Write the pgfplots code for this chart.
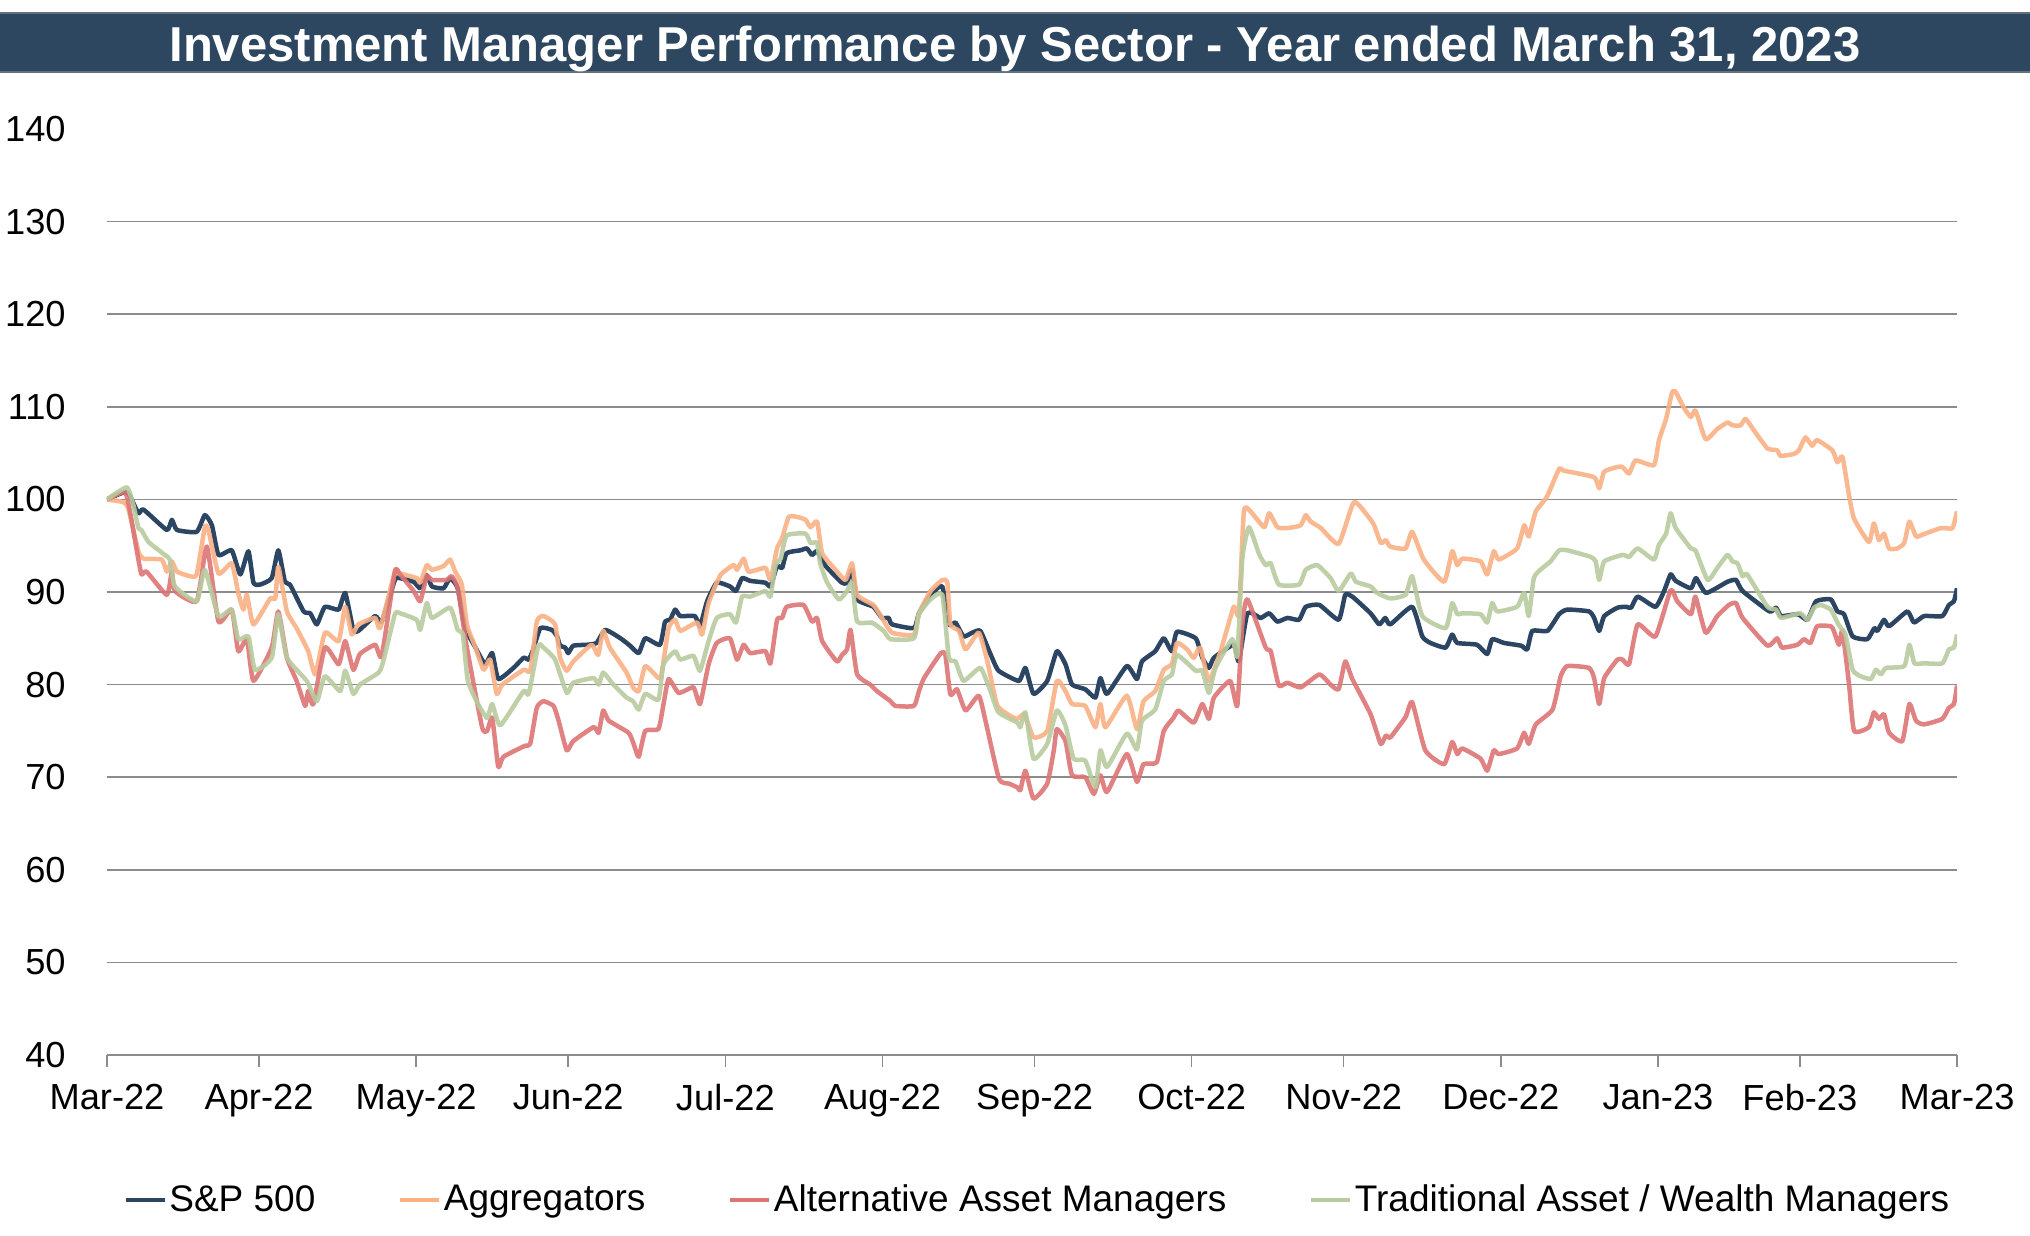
\documentclass[border=0pt]{standalone}
\usepackage{fontspec}
\setmainfont{Liberation Sans}
\usepackage{pgfplots}
\pgfplotsset{compat=1.18}

\definecolor{navy}{RGB}{43,69,99}
\definecolor{titlebar}{RGB}{45,71,97}
\definecolor{aggr}{RGB}{250,176,132}
\definecolor{altm}{RGB}{222,116,116}
\definecolor{trad}{RGB}{184,203,158}
\definecolor{gridc}{RGB}{140,140,140}

\begin{document}
\begin{tikzpicture}[font=\fontsize{14.5}{17}\selectfont]
\useasboundingbox (0,0) rectangle (812pt,494.4pt);
\fill[titlebar] (0,465.6pt) rectangle (812pt,489.2pt);
\draw[gridc!60!titlebar, line width=0.5pt] (0,465.6pt) -- (812pt,465.6pt) (0,489.2pt) -- (812pt,489.2pt);
\node[anchor=base, text=white, font=\fontsize{19.6}{23}\selectfont\bfseries] at (406pt,469.8pt)
  {Investment Manager Performance by Sector - Year ended March 31, 2023};

\begin{axis}[
  at={(42.8pt,72.4pt)}, anchor=south west,
  scale only axis, width=740pt, height=370.4pt,
  xmin=0, xmax=365, ymin=40, ymax=140,
  axis lines*=left,
  y axis line style={draw=none},
  x axis line style={gridc, line width=0.8pt},
  xtick={0,30,61,91,122,153,183,214,244,275,306,334,365},
  xticklabels={Mar-22,Apr-22,May-22,Jun-22,Jul-22,Aug-22,Sep-22,Oct-22,Nov-22,Dec-22,Jan-23,Feb-23,Mar-23},
  ytick={40,50,...,140},
  tick align=outside,
  major tick length=5pt,
  xtick style={gridc, line width=0.6pt},
  ytick style={draw=none},
  extra y ticks={50,60,...,130},
  extra y tick labels={},
  extra y tick style={grid=major},
  major grid style={gridc, line width=0.7pt},
  yticklabel style={anchor=east, xshift=-8pt},
  xticklabel style={yshift=-3.3pt},
  /pgf/number format/assume math mode=true,
  every axis plot/.append style={line width=1.8pt, line join=round, no markers, smooth, tension=0.3},
  legend columns=4,
  legend style={at={(0.503,-0.1566)}, anchor=center, draw=none, fill=none,
    font=\fontsize{14.8}{17}\selectfont,
    nodes={inner sep=1pt},
    /tikz/every even column/.append style={column sep=32pt}},
  legend image code/.code={\draw[#1, line width=1.8pt, opacity=1, sharp plot] (0pt,0pt) -- (15.6pt,0pt);},
]

% S&P 500
\addplot[navy] coordinates {
(0,100) (3.5,100.8) (4.5,100.4) (6.2,98.5) (7.2,98.9) (11.8,96.7) (12.8,97.8) (13.8,96.7)
(17.7,96.5) (19.3,98.3) (20.7,97.2) (22,94.0) (24.6,94.5) (26.3,91.9) (27.9,94.4) (28.9,91.0)
(30.2,90.8) (32.5,91.5) (33.8,94.5) (35.1,91.1) (36.1,90.8) (38.8,87.9) (40.1,87.7) (41.4,86.5)
(43,88.4) (45.7,88.1) (47,89.9) (48.6,85.9) (49.6,85.8) (52.9,87.4) (54.2,86.8) (56.8,91.3)
(57.8,91.5) (60.5,91.1) (61.8,90.4) (63.1,91.8) (64.1,90.6) (66.4,90.4) (67.7,91.5) (69.2,90.4)
(70.7,86.1) (72.7,84.0) (74.6,82.2) (76,83.4) (77.2,80.6) (80.2,81.8) (82.2,82.9) (83.2,82.7)
(84.1,83.8) (85.5,86.1) (87.8,85.9) (88.8,85.2) (89.4,84.2) (90.4,84.0) (91.0,83.4) (92.0,84.2)
(94.7,84.3) (96.6,84.5) (98.3,85.9) (101.3,85.0) (103.2,84.2) (104.9,83.4) (106.2,85.0) (109.1,84.3)
(110.1,86.8) (111.1,87.0) (112.1,88.1) (113.1,87.4) (116.0,87.4) (117.0,86.3) (118.4,89.0) (120.3,91.0)
(122.9,90.6) (124.1,90.1) (125.3,91.5) (126.9,91.2) (129.9,91.0) (130.9,90.6) (132.2,92.8) (133.2,92.6)
(134.1,94.2) (136.8,94.5) (138.1,94.7) (139.1,94.0) (140.1,94.4) (141.8,92.8) (145.0,91.0) (146.0,91.0)
(147.0,92.4) (148.0,89.2) (151.2,88.4) (152.9,87.2) (154.2,87.2) (154.9,86.5) (159.2,86.1) (160.2,87.7)
(162.5,89.7) (164.8,90.6) (166.1,86.5) (167.4,86.7) (169.0,85.2) (170.7,85.6) (172.3,85.8) (174.3,83.3)
(175.9,81.5) (179.9,80.4) (181.2,81.8) (182.8,79.0) (185.5,80.4) (187.4,83.6) (189.1,82.2) (190.4,80.0)
(193.0,79.5) (195,78.6) (196.0,80.7) (197.3,79.0) (201.2,82.0) (203.2,80.6) (204.2,82.5) (206.8,83.6)
(208.5,85.0) (210.1,83.6) (211.1,85.7) (214.8,85.0) (216.1,82.9) (217.4,81.8) (218.4,82.9) (222.3,84.3)
(223.3,82.5) (225.0,87.7) (227.6,87.2) (229.3,87.7) (230.9,86.8) (232.9,87.2) (235.2,87.0) (236.5,88.4)
(239.2,88.6) (243,87.0) (244.3,89.7) (245.7,89.5) (249.3,87.7) (251,86.5) (252.2,87.2) (253.2,86.5)
(257.5,88.4) (259.5,85.2) (261.1,84.5) (264.1,84.0) (265.4,85.4) (266.4,84.5) (270.3,84.3) (272.3,83.3)
(273.3,84.9) (275.6,84.5) (279.0,84.2) (280.2,83.8) (281.2,85.8) (284.2,85.8) (286.5,87.6) (288.1,88.1)
(292.4,87.9) (293.4,87.2) (294.4,85.8) (295.4,87.4) (298.0,88.3) (299.7,88.4) (300.7,88.3) (302,89.5)
(305.5,88.4) (307.2,90.1) (308.5,91.9) (309.5,91.2) (312.5,90.4) (313.5,91.5) (315.5,89.9) (319.7,91.1)
(321.4,91.3) (322.7,90.1) (328,87.9) (329.3,88.3) (330.3,87.4) (333.6,87.6) (335.5,87.0) (337.2,89.0)
(340.1,89.2) (341.4,87.9) (342.7,87.6) (344.4,85.2) (347.3,84.9) (348.7,86.1) (349.3,85.8) (350.6,87.0)
(351.6,86.3) (355.2,87.9) (356.5,86.7) (358.5,87.4) (362.1,87.4) (363.4,88.6) (364.4,89.0) (365,90.4)
};
\addlegendentry{S\&P 500}

% Aggregators
\addplot[aggr, opacity=0.9] coordinates {
(0,100) (3.2,99.7) (4.2,99.0) (6.2,94.4) (7.2,93.6) (10.8,93.5) (11.8,92.2) (12.8,93.3)
(13.8,92.2) (16.4,91.7) (17.7,91.9) (19.3,97.0) (20,96.7) (22,92.0) (24.6,93.1) (25.9,89.9)
(26.9,88.1) (27.6,89.7) (28.9,86.5) (32.2,89.3) (33.2,89.3) (33.8,92.7) (35.5,87.9) (37.4,86.1)
(39.7,83.6) (41.1,81.1) (43,85.6) (45.7,84.7) (47,88.4) (48.3,85.4) (49.6,86.5) (52.9,87.2)
(53.9,86.1) (56.8,92.2) (57.8,92.0) (61.1,91.5) (61.8,91.0) (63.1,92.9) (64.1,92.4) (66.4,92.8)
(67.7,93.5) (68.7,92.2) (70.0,90.8) (71,86.5) (72.7,84.0) (74.3,81.6) (75.6,82.7) (76.9,79.0)
(78,80.0) (82.2,81.6) (83.5,81.5) (84.8,86.8) (86.1,87.4) (88.4,86.5) (89.4,82.9) (90.7,81.5)
(92.0,82.5) (95.6,84.3) (96.9,83.2) (97.9,85.8) (99.2,84.0) (102.5,81.3) (103.8,79.7) (104.9,79.3)
(106.2,82.0) (108.8,80.7) (109.4,81.1) (110.8,86.1) (112.1,87.0) (113.1,85.8) (116.4,86.7) (117.4,85.4)
(118.7,88.8) (121,91.8) (123.6,92.9) (124.3,92.4) (125.6,93.6) (126.6,92.2) (129.9,92.6) (130.9,91.3)
(132.2,94.7) (133.2,95.8) (134.5,98.1) (136.2,98.1) (137.8,97.8) (138.8,97.0) (140.1,97.6) (141.1,94.2)
(143.4,92.6) (145.7,91.3) (147.0,93.1) (148.0,89.7) (151.2,88.6) (152.9,87.2) (154.9,85.6) (159.2,85.4)
(160.2,87.7) (162.5,90.1) (164.8,91.3) (165.8,91.0) (166.4,86.5) (168.1,85.8) (169.4,83.8) (172.0,85.6)
(173.7,82.5) (175.7,77.7) (179.4,76.3) (181.0,76.8) (182.8,74.3) (185.5,75.0) (187.4,80.4) (189.1,79.3)
(190.4,77.9) (193.0,77.7) (195.0,75.4) (196.0,77.9) (197,75.4) (201.2,78.8) (203.2,75.2) (204.5,78.2)
(206.8,79.3) (208.5,81.6) (210.1,82.2) (211.1,84.5) (213.1,83.8) (214.4,82.9) (215.7,84.0) (217.4,80.4)
(219.7,83.6) (222.3,88.4) (223.3,87.6) (224.3,98.7) (225.6,98.7) (228.3,97.0) (229.3,98.5) (230.9,97.0)
(232.9,96.9) (235.5,97.2) (236.5,98.3) (237.5,97.6) (239.5,96.9) (243,95.2) (246,99.7) (248.9,98.1)
(250,97.2) (251.3,95.3) (252.3,95.6) (253.2,94.9) (256.2,94.7) (257.5,96.5) (259.8,93.5) (263.8,91.1)
(265.4,94.4) (266.4,92.9) (267.4,93.6) (271.0,93.3) (272.3,91.9) (273.6,94.4) (274.6,93.5) (278.2,94.7)
(279.6,97.2) (280.5,96.0) (281.9,98.7) (284.1,100.3) (286.5,103.3) (287.4,103.1) (293.4,102.4) (294.4,101.2)
(295.4,103.0) (298.0,103.5) (299.0,103.5) (300.3,102.8) (301.6,104.2) (305.2,103.7) (306.2,106.4) (307.6,108.7)
(308.8,111.6) (309.5,111.6) (311.1,109.9) (312.5,108.9) (313.4,109.6) (315.4,106.5) (317.7,107.6) (319.7,108.3)
(320.7,108.0) (322.3,108.0) (323.3,108.7) (325,107.4) (327.6,105.5) (329.5,105.3) (330.2,104.7) (332.8,104.9)
(333.8,105.3) (335.1,106.7) (336.4,105.8) (337.4,106.4) (340.4,105.3) (341.4,104.0) (342.4,104.6) (343.7,100.4)
(344.7,97.9) (347.6,95.4) (348.6,97.4) (349.6,95.6) (350.6,96.3) (351.6,94.7) (353.2,94.7) (354.6,95.3)
(355.6,97.6) (356.9,96.0) (358.2,96.2) (361.8,96.9) (364.1,96.9) (365,98.7)
};
\addlegendentry{Aggregators}

% Alternative Asset Managers
\addplot[altm, opacity=0.9] coordinates {
(0,100) (3.5,100.8) (4.5,98.8) (5.9,94.4) (6.8,91.9) (7.8,92.2) (11.8,89.7) (12.8,92.2)
(13.4,90.1) (17.7,89.0) (19.7,94.9) (22,86.8) (24.6,88.1) (25.9,83.6) (27.6,84.9) (28.9,80.4)
(32.5,84.0) (33.8,87.9) (35.5,82.9) (37.4,80.4) (39.1,77.7) (39.7,79.3) (40.7,77.9) (43,84.0)
(45.7,82.2) (47,84.7) (48.6,81.6) (49.9,83.3) (52.9,84.3) (54.2,83.1) (56.8,92.2) (57.8,91.9)
(60.5,90.1) (61.8,89.0) (63.1,91.7) (64.1,91.3) (67,91.3) (68,91.7) (69.2,90.4) (71,84.0)
(74,75.4) (75,75.0) (76,76.4) (77.2,71.1) (78.2,72.2) (82.5,73.4) (83.5,73.6) (84.8,77.5)
(86.1,78.2) (88.1,77.7) (89.1,76.1) (90.7,72.9) (92.0,73.9) (96,75.4) (97,74.8) (97.9,77.2)
(99,76.1) (102.9,74.8) (103.9,73.6) (104.9,72.2) (106.2,75.0) (108.8,75.2) (109.8,77.9) (110.8,80.6)
(112.8,79.1) (115.7,79.7) (117.0,77.9) (118.7,82.2) (120.3,84.5) (122.9,85.0) (124.3,82.7) (125.6,84.3)
(126.9,83.4) (129.9,83.6) (130.9,82.3) (132.2,87.0) (133.2,87.2) (134.1,88.4) (137.4,88.6) (139.1,86.8)
(140.1,87.2) (141.1,84.7) (144,82.5) (145,83.2) (146.0,83.8) (146.7,85.9) (148,81.1) (150.6,80.0)
(151.9,79.3) (154.6,78.2) (155.5,77.7) (159.2,77.7) (160.2,79.3) (161.2,80.7) (164.5,83.4) (165.4,83.2)
(166.4,78.9) (167.7,79.5) (169.4,77.2) (172.0,78.8) (173.4,75.9) (176,69.8) (178,69.3) (179.6,68.9)
(180.2,68.6) (181.2,70.7) (182.8,67.7) (185.5,69.3) (186.8,72.9) (187.4,75.2) (189.1,73.9) (190.4,70.2)
(193,70.0) (194.7,68.2) (196,70.2) (197.3,68.4) (201.2,72.5) (203.2,69.5) (204.5,71.4) (207.1,71.6)
(208.5,75.0) (210.4,76.4) (211.4,77.2) (214.4,75.9) (216.1,77.9) (217.4,76.3) (218.4,78.6) (221.6,80.4)
(223,77.7) (224,86.5) (225.0,89.2) (228.6,84.0) (229.6,83.6) (231.2,79.9) (232.9,80.2) (235.5,79.7)
(239.2,81.1) (241.4,80.0) (243,79.5) (244.3,82.5) (245.7,80.6) (249.3,76.8) (251.3,73.6) (252.3,74.5)
(253.2,74.3) (256.2,76.5) (257.5,78.1) (260.1,72.9) (263.8,71.4) (265.4,73.8) (266.4,72.5) (267.4,73.1)
(271.0,72.0) (272.3,70.7) (273.6,72.9) (274.6,72.5) (278.2,73.1) (279.6,74.8) (280.5,73.6) (281.9,75.7)
(285.2,77.3) (286.8,80.9) (288.1,82.0) (292.4,81.8) (293.4,80.7) (294.4,77.9) (295.4,80.7) (298.0,82.7)
(299,82.7) (300.3,82.2) (302,86.5) (305.5,85.2) (308.5,90.2) (309.8,89.0) (312.5,87.6) (313.4,89.5)
(315.4,85.6) (317.7,87.4) (320,88.6) (321.4,88.8) (322.7,87.2) (327.6,84.2) (329.5,85.0) (330.5,84.0)
(333.5,84.3) (334.8,84.9) (336.1,84.5) (337.4,86.3) (340.1,86.3) (340.7,85.8) (341.7,84.3) (342.4,85.8)
(343.7,80.0) (344.7,75.0) (347.6,75.4) (348.6,77.0) (349.6,76.3) (350.6,76.8) (351.6,74.8) (354.2,73.9)
(355.6,77.9) (356.9,76.1) (358.5,75.7) (362.1,76.3) (363.4,77.5) (364.4,77.9) (365,79.9)
};
\addlegendentry{Alternative Asset Managers}

% Traditional Asset / Wealth Managers
\addplot[trad, opacity=0.9] coordinates {
(0,100) (3.9,101.3) (5.2,99.4) (6.2,96.9) (6.8,96.7) (8.2,95.4) (11.4,94.0) (12.4,93.5)
(13.4,90.6) (17.7,89.0) (19.3,92.4) (22,87.4) (24.6,88.1) (25.9,84.9) (27.9,85.2) (29.2,81.6)
(32.5,82.9) (33.8,87.6) (35.5,82.9) (39.4,80.4) (41.4,78.2) (43,80.9) (46,79.3) (47,81.5)
(48.6,79.0) (49.9,80.0) (53.6,81.3) (54.5,82.5) (56.8,87.6) (57.8,87.7) (61.1,87.0) (61.8,85.9)
(63.1,88.8) (64.1,87.2) (67.7,88.3) (69.2,85.9) (70.2,85.4) (71.2,80.4) (73.2,77.9) (75.0,76.4)
(76,77.9) (77.6,75.6) (82.2,79.3) (83.2,79.0) (85.1,84.2) (86.1,84.0) (88.4,82.7) (90.7,79.1)
(92.0,80.2) (96,80.7) (97,80.0) (97.9,81.3) (99.9,80.0) (102.5,78.6) (103.8,78.2) (104.9,77.3)
(106.2,79.0) (108.8,78.4) (109.8,82.2) (112.1,83.6) (113.1,82.7) (115.7,83.1) (117,81.5) (118.7,84.7)
(120.3,87.2) (122.9,87.6) (124.1,86.7) (125.3,89.5) (126.9,89.5) (129.9,90.1) (130.9,89.5) (131.9,92.9)
(132.9,93.6) (134.1,96.1) (137.8,96.3) (138.8,95.3) (140.1,95.3) (140.7,93.1) (142.1,91.0) (144.4,89.2)
(146.0,90.1) (147.0,91.0) (148,86.8) (150.9,86.7) (153.2,85.8) (154.6,84.9) (159.2,85.0) (160.2,87.6)
(162.5,89.2) (164.8,89.7) (166.1,82.9) (167.4,82.5) (169.0,80.4) (172.3,81.8) (174.3,79.3) (175.9,77.0)
(179.6,75.9) (180.2,75.4) (181.2,77.0) (182.8,72.0) (185.5,73.6) (187.4,77.2) (189.1,75.6) (190.7,72.0)
(193,71.8) (195,68.9) (196,72.9) (197.3,71.1) (201.2,74.7) (203.2,73.0) (204.2,76.1) (206.8,77.3)
(208.5,80.4) (210.1,81.1) (211.1,83.2) (214.8,81.5) (216.1,81.5) (217.4,79.1) (218.7,81.8) (222.0,84.9)
(223,83.1) (224,93.6) (225.3,97.0) (227.3,94.1) (228.6,92.9) (229.6,93.1) (231.2,90.8) (235.2,90.8)
(236.5,92.4) (238.8,92.9) (241.4,91.5) (243,90.1) (245.4,92.0) (246.4,91.1) (249.3,90.6) (250.6,89.9)
(253.2,89.3) (256.2,89.7) (257.5,91.7) (259.5,87.4) (264.1,86.1) (265.4,88.8) (266.4,87.6) (267.4,87.7)
(271.0,87.6) (272.3,86.7) (273.3,88.8) (274.3,87.9) (278.2,88.4) (279.6,89.9) (280.5,87.4) (281.5,91.5)
(282.8,92.4) (284.8,93.3) (286.5,94.5) (288.1,94.5) (292.7,93.8) (293.7,93.3) (294.4,91.3) (295.4,93.3)
(299,94.0) (300.3,93.8) (302,94.7) (305.2,93.5) (306.2,95.1) (307.6,96.3) (308.5,98.5) (309.5,96.9)
(312.5,94.7) (313.4,94.5) (315.8,91.3) (317.7,92.6) (319.7,94.0) (320.7,93.3) (321.7,93.1) (322.7,91.7)
(323.6,91.9) (327.6,88.4) (329.3,88.1) (330.3,87.2) (334.1,87.7) (335.5,87.0) (336.8,88.3) (338.1,88.6)
(340.1,88.1) (341.4,86.7) (342.1,86.1) (343,85.4) (344.4,81.6) (346,80.9) (348,80.6) (349,81.6)
(350,81.1) (351,81.8) (354.6,82.0) (355.6,84.3) (356.6,82.3) (358.5,82.3) (362.1,82.3) (363.4,83.8)
(364.4,84.0) (365,85.4)
};
\addlegendentry{Traditional Asset / Wealth Managers}

\end{axis}
\end{tikzpicture}
\end{document}
